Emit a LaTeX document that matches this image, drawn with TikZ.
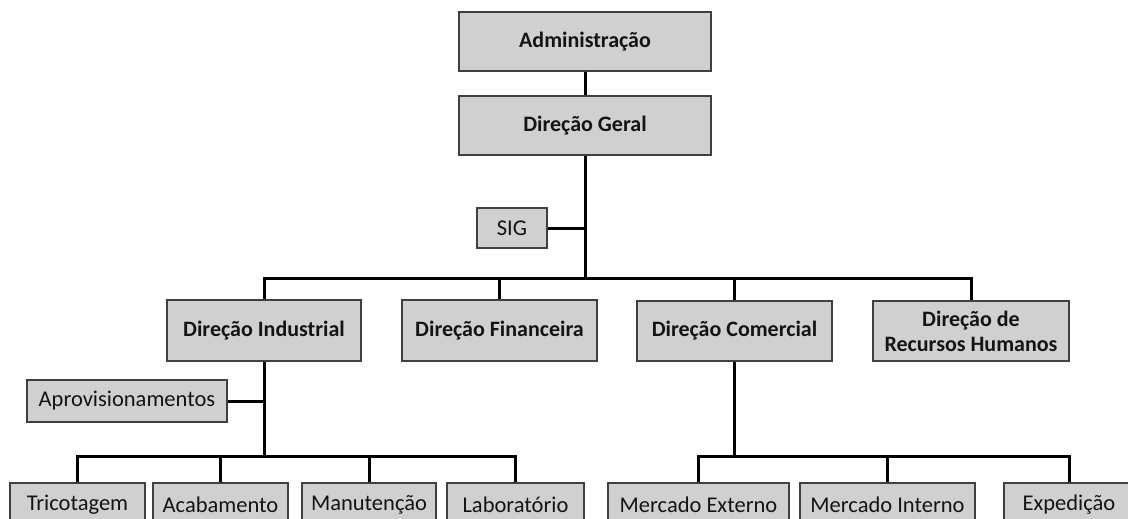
\documentclass[tikz,border=0pt]{standalone}
\usepackage{fontspec}
\setmainfont{Carlito}
\definecolor{boxfill}{RGB}{208,208,208}
\definecolor{boxline}{RGB}{64,64,64}
\definecolor{ink}{RGB}{20,20,20}
\begin{document}
\begin{tikzpicture}[x=1pt,y=-1pt,
  box/.style={draw=boxline, fill=boxfill, line width=1.4pt, inner sep=0pt,
              text=ink, align=center},
  unit/.style={box, font=\bfseries\fontsize{22}{25}\selectfont},
  leaf/.style={box, font=\fontsize{22.5}{25}\selectfont},
  link/.style={line width=3pt, black}]
\clip (0,0) rectangle (1128,519);
\useasboundingbox (0,0) rectangle (1128,519);

% top management
\node[unit, minimum width=252, minimum height=59] (adm) at (585,41.5) {Administração};
\node[unit, minimum width=252, minimum height=59] (dg)  at (585,125.5) {Direção Geral};
\node[leaf, minimum width=70,  minimum height=40] (sig) at (512,228) {SIG};

% directorates
\node[unit, minimum width=194, minimum height=61] (di)  at (264,330.5) {Direção Industrial};
\node[unit, minimum width=195, minimum height=61] (df)  at (499.5,330.5) {Direção Financeira};
\node[unit, minimum width=195, minimum height=60] (dc)  at (734.5,331) {Direção Comercial};
\node[unit, minimum width=196, minimum height=60] (drh) at (971,331) {Direção de\\Recursos Humanos};

% industrial units
\node[leaf, minimum width=200, minimum height=42] (apr) at (127,401) {Aprovisionamentos};
\node[leaf, minimum width=135, minimum height=44] (tri) at (77.5,505) {Tricotagem};
\node[leaf, minimum width=135, minimum height=44] (aca) at (220.5,505) {Acabamento};
\node[leaf, minimum width=134, minimum height=44] (man) at (369,505) {Manutenção};
\node[leaf, minimum width=137, minimum height=44] (lab) at (515.5,505) {Laboratório};

% commercial units
\node[leaf, minimum width=181, minimum height=44] (mex) at (698.5,505) {Mercado Externo};
\node[leaf, minimum width=175, minimum height=44] (min) at (887.5,505) {Mercado Interno};
\node[leaf, minimum width=130, minimum height=44] (exp) at (1069,505) {Expedição};

% bus junctions
\coordinate (b1) at (585,278);
\coordinate (b2) at (264,456);
\coordinate (b3) at (734.5,456);

% connectors
\draw[link] (adm) -- (dg);
\draw[link] (dg) -- (b1);
\draw[link] (sig) -- (sig -| b1);
\draw[link] (di.north) -- (di.north |- b1) -- (drh.north |- b1) -- (drh.north);
\draw[link] (df) -- (df |- b1);
\draw[link] (dc) -- (dc |- b1);

\draw[link] (di) -- (b2);
\draw[link] (apr) -- (apr -| b2);
\draw[link] (tri.north) -- (tri.north |- b2) -- (lab.north |- b2) -- (lab.north);
\draw[link] (aca) -- (aca |- b2);
\draw[link] (man) -- (man |- b2);

\draw[link] (dc) -- (b3);
\draw[link] (mex.north) -- (mex.north |- b3) -- (exp.north |- b3) -- (exp.north);
\draw[link] (min) -- (min |- b3);
\end{tikzpicture}
\end{document}
